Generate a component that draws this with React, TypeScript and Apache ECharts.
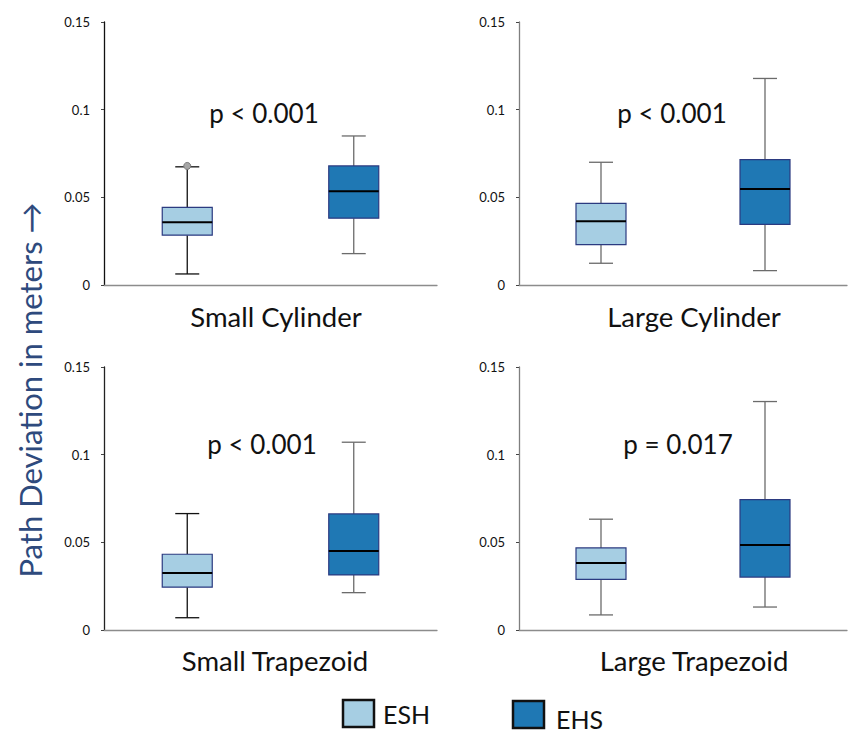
import React, { useEffect, useRef } from "react";
import * as echarts from "echarts";

// ---- data ----
const groups = ["ESH", "EHS"];
const panelTitles = ["Small Cylinder", "Large Cylinder", "Small Trapezoid", "Large Trapezoid"];
const pValues = ["p < 0.001", "p < 0.001", "p < 0.001", "p = 0.017"];
const yTicks = [0, 0.05, 0.1, 0.15];
// [min, Q1, median, Q3, max]
const smallCylESH = [0.0063, 0.0284, 0.0358, 0.0443, 0.0674];
const smallCylEHS = [0.0179, 0.0381, 0.0535, 0.0679, 0.085];
const largeCylESH = [0.0124, 0.023, 0.0364, 0.0466, 0.07];
const largeCylEHS = [0.0082, 0.0346, 0.0548, 0.0715, 0.1178];
const smallTrapESH = [0.007, 0.0244, 0.0325, 0.0432, 0.0664];
const smallTrapEHS = [0.0213, 0.0314, 0.0451, 0.0662, 0.1071];
const largeTrapESH = [0.0086, 0.0289, 0.0382, 0.0468, 0.0632];
const largeTrapEHS = [0.0131, 0.0302, 0.0485, 0.0744, 0.1303];
const smallCylOutliersESH = [0.0679];

const panelData = [
  [smallCylESH, smallCylEHS],
  [largeCylESH, largeCylEHS],
  [smallTrapESH, smallTrapEHS],
  [largeTrapESH, largeTrapEHS],
];

// ---- styles / layout ----
const FONT = 'Lato, "Open Sans", sans-serif';
const fillColors = ["#a6cee3", "#1f78b4"];
const boxBorder = "#2b3a80";
const whiskerColors = [
  ["#111111", "#6b6b6b"],
  ["#6b6b6b", "#6b6b6b"],
  ["#111111", "#6b6b6b"],
  ["#6b6b6b", "#6b6b6b"],
];
const yAxisLineColors = ["#111111", "#7f7f7f", "#222222", "#7f7f7f"];
const grids = [
  { left: 104, top: 22, width: 333, height: 263 },
  { left: 519, top: 22, width: 328, height: 263 },
  { left: 104, top: 367, width: 333, height: 263 },
  { left: 519, top: 367, width: 328, height: 263 },
];
const titlePos = [
  [276, 316],
  [694, 316],
  [275, 660],
  [694, 660],
];
const pPos = [
  [264, 113],
  [672, 113],
  [262, 444],
  [678, 444],
];

function makeRenderItem(panel: number) {
  return (params: any, api: any) => {
    const x = api.value(0);
    const gi = api.value(6);
    const pMin = api.coord([x, api.value(1)]);
    const pQ1 = api.coord([x, api.value(2)]);
    const pMed = api.coord([x, api.value(3)]);
    const pQ3 = api.coord([x, api.value(4)]);
    const pMax = api.coord([x, api.value(5)]);
    const cx = pMin[0];
    const bw = 50;
    const cw = 24;
    const wc = whiskerColors[panel][gi];
    const lineStyle = { stroke: wc, lineWidth: 1.3 };
    return {
      type: "group",
      children: [
        { type: "line", shape: { x1: cx, y1: pQ3[1], x2: cx, y2: pMax[1] }, style: lineStyle },
        { type: "line", shape: { x1: cx, y1: pQ1[1], x2: cx, y2: pMin[1] }, style: lineStyle },
        { type: "line", shape: { x1: cx - cw / 2, y1: pMax[1], x2: cx + cw / 2, y2: pMax[1] }, style: lineStyle },
        { type: "line", shape: { x1: cx - cw / 2, y1: pMin[1], x2: cx + cw / 2, y2: pMin[1] }, style: lineStyle },
        {
          type: "rect",
          shape: { x: cx - bw / 2, y: pQ3[1], width: bw, height: pQ1[1] - pQ3[1] },
          style: { fill: fillColors[gi], stroke: boxBorder, lineWidth: 1.2 },
        },
        {
          type: "line",
          shape: { x1: cx - bw / 2, y1: pMed[1], x2: cx + bw / 2, y2: pMed[1] },
          style: { stroke: "#000000", lineWidth: 2 },
        },
      ],
    };
  };
}

export default function App() {
  const ref = useRef<HTMLDivElement>(null);
  useEffect(() => {
    if (!ref.current) return;
    const chart = echarts.init(ref.current, undefined, { renderer: "svg" });
    const series: any[] = [];
    panelData.forEach((pd, i) => {
      series.push({
        type: "custom",
        xAxisIndex: i,
        yAxisIndex: i,
        renderItem: makeRenderItem(i),
        encode: { x: 0, y: [1, 2, 3, 4, 5] },
        data: pd.map((v, gi) => [gi, ...v, gi]),
        z: 2,
      });
    });
    series.push({
      type: "scatter",
      xAxisIndex: 0,
      yAxisIndex: 0,
      data: smallCylOutliersESH.map((v) => [0, v]),
      symbolSize: 7,
      itemStyle: { color: "#a6a6a6", borderColor: "#7a7a7a", borderWidth: 1, opacity: 1 },
      z: 5,
    });

    const graphic: any[] = [];
    panelTitles.forEach((t, i) => {
      graphic.push({
        type: "text",
        x: titlePos[i][0],
        y: titlePos[i][1],
        style: { text: t, fontSize: 27.5, fontFamily: FONT, fill: "#111", align: "center", verticalAlign: "middle" },
      });
      graphic.push({
        type: "text",
        x: pPos[i][0],
        y: pPos[i][1],
        style: { text: pValues[i], fontSize: 26, fontFamily: FONT, fill: "#111", align: "center", verticalAlign: "middle" },
      });
    });
    graphic.push({
      type: "text",
      x: 30,
      y: 390,
      rotation: Math.PI / 2,
      style: {
        text: "Path Deviation in meters \u2192",
        fontSize: 31,
        fontFamily: FONT,
        fill: "#2e4a7d",
        align: "center",
        verticalAlign: "middle",
      },
    });
    // legend
    graphic.push({
      type: "rect",
      shape: { x: 343, y: 700, width: 31, height: 27 },
      style: { fill: fillColors[0], stroke: "#111", lineWidth: 2.5 },
    });
    graphic.push({
      type: "text",
      x: 383,
      y: 714,
      style: { text: groups[0], fontSize: 25, fontFamily: FONT, fill: "#111", verticalAlign: "middle" },
    });
    graphic.push({
      type: "rect",
      shape: { x: 513, y: 701, width: 31, height: 27 },
      style: { fill: fillColors[1], stroke: "#111", lineWidth: 2.5 },
    });
    graphic.push({
      type: "text",
      x: 556,
      y: 719,
      style: { text: groups[1], fontSize: 25, fontFamily: FONT, fill: "#111", verticalAlign: "middle" },
    });

    chart.setOption({
      animation: false,
      grid: grids.map((g) => ({ ...g, containLabel: false })),
      xAxis: grids.map((_, i) => ({
        type: "category",
        gridIndex: i,
        data: groups,
        boundaryGap: true,
        axisLine: { lineStyle: { color: "#8c8c8c", width: 1.3 } },
        axisTick: { alignWithLabel: true, length: 3, lineStyle: { color: "#444" } },
        axisLabel: { show: false },
        splitLine: { show: false },
      })),
      yAxis: grids.map((_, i) => ({
        type: "value",
        gridIndex: i,
        min: yTicks[0],
        max: yTicks[yTicks.length - 1],
        interval: 0.05,
        axisLine: { show: true, lineStyle: { color: yAxisLineColors[i], width: 1.3 } },
        axisTick: { show: true, length: 3, lineStyle: { color: "#444" } },
        axisLabel: {
          fontSize: 13,
          fontFamily: FONT,
          color: "#111",
          margin: 14,
          padding: [0, 0, 6, 0],
        },
        splitLine: { show: false },
      })),
      series,
      graphic,
    });
    return () => chart.dispose();
  }, []);
  return (
    <div
      ref={ref}
      style={{ position: "fixed", left: 0, top: 0, width: 848, height: 733, background: "#fff" }}
    />
  );
}
